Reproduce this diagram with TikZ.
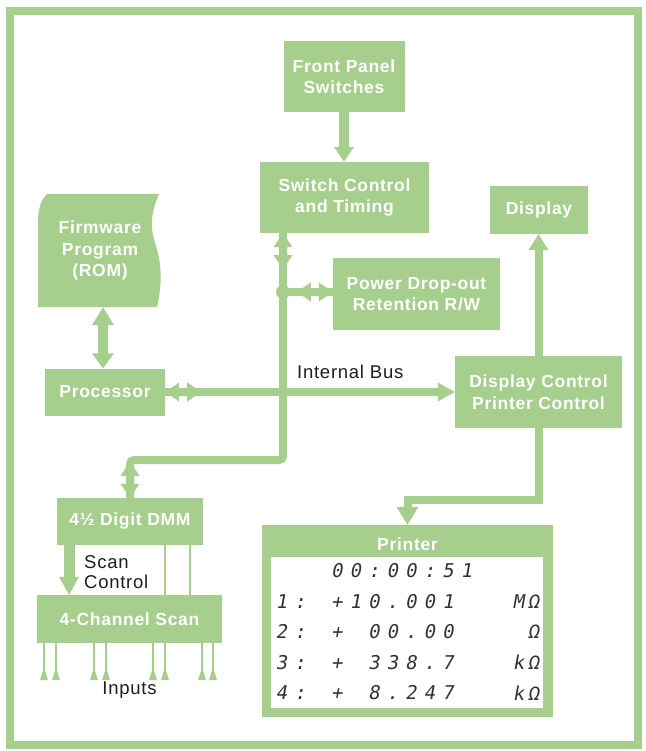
\documentclass[tikz,border=0pt]{standalone}
\usepackage{fontspec}
\setmainfont{Liberation Sans}
\newfontfamily\lblfont{Liberation Sans}[LetterSpace=4]
\newfontfamily\dotfont{DejaVu Sans Mono}[FakeSlant=0.18]
\usetikzlibrary{calc}
\definecolor{hpgreen}{RGB}{166,206,140}
\definecolor{ink}{RGB}{30,30,30}
\definecolor{dotink}{RGB}{50,50,50}
\makeatletter
\def\dmrow#1{\dm@loop#1\dm@end}
\def\dm@end{\dm@end}
\def\dm@loop#1{\ifx#1\dm@end\else\dm@box{#1}\expandafter\dm@loop\fi}
\def\dm@box#1{\if|#1\makebox[18.5pt]{}\else\makebox[18.5pt]{#1}\fi}
\makeatother
\newcommand\dmu[1]{\makebox[15pt]{#1}}
% arrow head: position, angle, length, half width
\newcommand\tiphead[4]{\fill[hpgreen,shift={#1},rotate=#2] (0,0) -- (-#3,#4) -- (-#3,-#4) -- cycle;}
% bus double head: tip at position pointing at angle, then neck and reversed head
\newcommand\dblhead[2]{\fill[hpgreen,shift={#1},rotate=#2] (0,0) -- (-14,9.5) -- (-14,-9.5) -- cycle
  (-13,4) rectangle (-23,-4)
  (-22,9.5) -- (-22,-9.5) -- (-36,0) -- cycle;}
\tikzset{
  box/.style={fill=hpgreen, text=white, font=\lblfont\bfseries\fontsize{17.5}{21.5}\selectfont, align=center, inner sep=0pt},
  lbl/.style={text=ink, font=\lblfont\fontsize{18.5}{20.5}\selectfont, inner sep=0pt},
  bus/.style={draw=hpgreen, line width=8pt},
  fat/.style={draw=hpgreen},
  thinline/.style={draw=hpgreen, line width=2pt},
  dotm/.style={text=dotink, font=\dotfont\fontsize{19}{20}\selectfont, inner sep=0pt},
}
\begin{document}
\begin{tikzpicture}[x=1pt,y=-1pt]
\useasboundingbox (0,0) rectangle (645,751);
\fill[white] (0,0) rectangle (645,751);
\draw[hpgreen, line width=8pt] (10,11) rectangle (638,745);

% firmware wavy shape
\fill[hpgreen] (47,194) -- (159,194)
  .. controls (150,215) and (150,228) .. (156,246)
  .. controls (163,268) and (161,290) .. (157,307)
  -- (38,307) -- (38,222) .. controls (38,207) and (42,199) .. (47,194) -- cycle;
\node[box, fill=none, minimum width=121pt, minimum height=113pt] (fw) at (100,250.5) {Firmware\\Program\\(ROM)};

% boxes
\node[box, minimum width=121pt, minimum height=71pt] (fps) at (344,76.5) {Front Panel\\Switches};
\node[box, minimum width=169pt, minimum height=71pt] (sct) at (344.5,197.5) {Switch Control\\and Timing};
\node[box, minimum width=98pt, minimum height=48pt] (disp) at (539,210) {Display};
\node[box, minimum width=167pt, minimum height=72pt] (pdo) at (416.5,294) {Power Drop-out\\Retention R/W};
\node[box, minimum width=120pt, minimum height=47pt] (proc) at (105,392) {Processor};
\node[box, minimum width=167pt, minimum height=72pt] (dcp) at (538.5,392) {Display Control\\Printer Control};
\node[box, minimum width=146pt, minimum height=47pt] (dmm) at (130,521.5) {4½ Digit DMM};
\node[box, minimum width=185pt, minimum height=48pt] (scan) at (129.5,619) {4-Channel Scan};
\node[box, minimum width=291pt, minimum height=192pt] (prn) at (407.5,621) {};
\fill[white] ($(prn.north west)+(9,32)$) rectangle ($(prn.south east)+(-10,-9)$);
\node[box] (prnt) at ($(prn.north)+(0,19)$) {Printer};

% labels
\node[lbl, anchor=west] (ib) at (297,372) {Internal Bus};
\node[lbl, anchor=west, align=left] (scl) at (84,572) {Scan\\Control};
\node[lbl] (inp) at (129.5,690) {Inputs};

% bus
\coordinate (j1) at (283,292);
\coordinate (j2) at (283,392);
\coordinate (b2) at (130,460);
\coordinate (fx) at (103,0);
\coordinate (sc) at (69,0);
\draw[bus, rounded corners=4pt] (sct.south -| j1) -- (j2) -- (j2 |- b2) -- (b2) -- (dmm.north);
\draw[bus, shorten >=10pt] (proc.east) -- (dcp.west);
\draw[bus] (j1) -- (j1 -| pdo.west);
\fill[hpgreen] (j1) circle (7);
\fill[hpgreen] (j2) circle (6);
\dblhead{(sct.south -| j1)}{90}
\dblhead{(j1 -| pdo.west)}{0}
\dblhead{(proc.east)}{180}
\dblhead{(dmm.north)}{-90}
\tiphead{(dcp.west)}{0}{17}{9.5}

% other arrows
\draw[fat, line width=10pt, shorten >=12pt] (fps.south) -- (fps.south |- sct.north);
\tiphead{(fps.south |- sct.north)}{-90}{15}{10}
\draw[fat, line width=8pt, shorten >=12pt] (dcp.north) -- (disp.south -| dcp.north);
\tiphead{(disp.south -| dcp.north)}{90}{16}{10}
\draw[fat, line width=8pt, line join=miter, shorten >=14pt] (dcp.south) |- ($(prn.north)+(0,-25)$) -- (prn.north);
\tiphead{(prn.north)}{-90}{18}{11}
\draw[fat, line width=10pt, shorten >=14pt, shorten <=14pt] (fw.south -| fx) -- (proc.north -| fx);
\tiphead{(fw.south -| fx)}{90}{18}{11}
\tiphead{(proc.north -| fx)}{-90}{15}{11}
\draw[fat, line width=11pt, shorten >=14pt] (dmm.south -| sc) -- (scan.north -| sc);
\tiphead{(scan.north -| sc)}{-90}{18}{10}
\foreach \x in {165,190} {
  \coordinate (t) at (\x,0);
  \draw[thinline] (dmm.south -| t) -- (scan.north -| t);
}
\foreach \x in {44,56,94,106,153,165,202,213} {
  \coordinate (t) at (\x,0);
  \draw[thinline] (scan.south -| t) -- ++(0,37);
  \tiphead{($(scan.south -| t)+(0,24)$)}{90}{13}{4}
}

% printer output
\node[dotm, anchor=west] (r0) at (272,571) {\dmrow{|||00:00:51}};
\node[dotm, anchor=west] (r1) at (272,601.5) {\dmrow{1:|+10.001}};
\node[dotm, anchor=west] (r2) at (272,632) {\dmrow{2:|+|00.00}};
\node[dotm, anchor=west] (r3) at (272,662.5) {\dmrow{3:|+|338.7}};
\node[dotm, anchor=west] (r4) at (272,693) {\dmrow{4:|+|8.247}};
\node[dotm, anchor=east] (u1) at (541,601.5) {\dmu{M}\dmu{Ω}};
\node[dotm, anchor=east] (u2) at (541,632) {\dmu{Ω}};
\node[dotm, anchor=east] (u3) at (541,662.5) {\dmu{k}\dmu{Ω}};
\node[dotm, anchor=east] (u4) at (541,693) {\dmu{k}\dmu{Ω}};
\end{tikzpicture}
\end{document}
